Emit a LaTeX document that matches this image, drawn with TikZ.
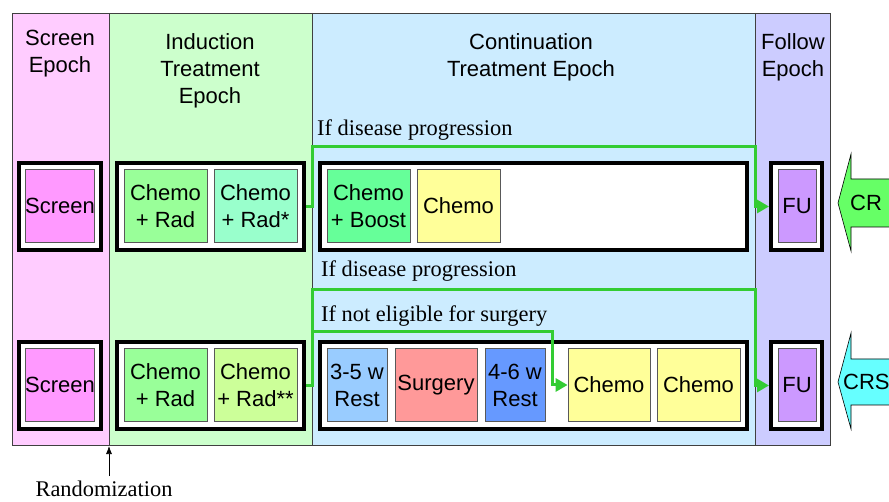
\documentclass[tikz,border=0pt]{standalone}
\usepackage{fontspec}
\setmainfont{Liberation Serif}
\setsansfont{Liberation Sans}
\usetikzlibrary{arrows.meta,calc}
\definecolor{bgscreen}{HTML}{FFCCFF}
\definecolor{bgind}{HTML}{CCFFCC}
\definecolor{bgcont}{HTML}{CCECFF}
\definecolor{bgfu}{HTML}{CCCCFF}
\definecolor{cscreen}{HTML}{FF99FF}
\definecolor{cchemorad}{HTML}{99FF99}
\definecolor{cchemoradstar}{HTML}{99FFCC}
\definecolor{cchemoradtwo}{HTML}{CCFF99}
\definecolor{cboost}{HTML}{66FF99}
\definecolor{cchemo}{HTML}{FFFF99}
\definecolor{crestA}{HTML}{99CCFF}
\definecolor{csurg}{HTML}{FF9999}
\definecolor{crestB}{HTML}{6699FF}
\definecolor{cfu}{HTML}{CC99FF}
\definecolor{flowgreen}{HTML}{33CC33}
\definecolor{crgreen}{HTML}{66FF66}
\definecolor{crscyan}{HTML}{66FFFF}
\tikzset{
  outerbox/.style={draw=black, line width=4pt, fill=white, inner sep=0pt, minimum height=87pt},
  inbox/.style={draw=black!65, line width=0.8pt, inner sep=0pt, align=center,
    font=\sffamily\fontsize{22}{27}\selectfont, minimum height=73pt},
  hdr/.style={font=\sffamily\fontsize{22}{27}\selectfont, align=center, inner sep=0pt},
  lbl/.style={font=\fontsize{22.4}{27}\selectfont, anchor=west, inner sep=0pt},
  flow/.style={draw=flowgreen, line width=3pt, line join=miter,
    -{Triangle[length=12pt,width=13pt]}},
  epochline/.style={draw=black!75, line width=0.8pt},
  bigarrow/.style={draw=black, line width=0.6pt}
}
\begin{document}
\begin{tikzpicture}[x=1pt,y=-1pt]
\useasboundingbox (0,0) rectangle (889,502);
\clip (0,0) rectangle (889,502);
% epoch backgrounds
\fill[bgscreen] (12,13) rectangle (109,445);
\fill[bgind] (109,13) rectangle (312,445);
\fill[bgcont] (312,13) rectangle (755,445);
\fill[bgfu] (755,13) rectangle (830,445);
\draw[epochline] (12,13) rectangle (830,445);
\draw[epochline] (109,13) -- (109,445);
\draw[epochline] (312,13) -- (312,445);
\draw[epochline] (755,13) -- (755,445);
% headers
\node[hdr] (hscr) at (60,54) {Screen\\Epoch};
\node[hdr] (hind) at (210,71) {Induction\\Treatment\\Epoch};
\node[hdr] (hcont) at (531,57) {Continuation\\Treatment Epoch};
\node[hdr] (hfu) at (793,57) {Follow\\Epoch};
% top row
\node[outerbox, minimum width=82pt] (scrT) at (60,206.5) {};
\node[inbox, fill=cscreen, minimum width=67pt] (scrTi) at (60,206) {Screen};
\node[outerbox, minimum width=187pt] (indT) at (210.5,206.5) {};
\node[inbox, fill=cchemorad, minimum width=83pt] (crT) at (165.5,206) {Chemo\\+ Rad};
\node[inbox, fill=cchemoradstar, minimum width=83pt] (crsT) at (255.5,206) {Chemo\\+ Rad*};
\node[outerbox, minimum width=427pt] (contT) at (533.5,206.5) {};
\node[inbox, fill=cboost, minimum width=83pt] (boost) at (368.5,206) {Chemo\\+ Boost};
\node[inbox, fill=cchemo, minimum width=83pt] (chemoT) at (458.5,206) {Chemo};
\node[outerbox, minimum width=51pt] (fuT) at (796.5,206.5) {};
\node[inbox, fill=cfu, minimum width=38pt] (fuTi) at (797,206) {FU};
% bottom row
\node[outerbox, minimum width=82pt] (scrB) at (60,385.5) {};
\node[inbox, fill=cscreen, minimum width=67pt] (scrBi) at (60,385) {Screen};
\node[outerbox, minimum width=187pt] (indB) at (210.5,385.5) {};
\node[inbox, fill=cchemorad, minimum width=83pt] (crB) at (165.5,385) {Chemo\\+ Rad};
\node[inbox, fill=cchemoradtwo, minimum width=83pt] (crsB) at (255.5,385) {Chemo\\+ Rad**};
\node[outerbox, minimum width=427pt] (contB) at (533.5,385.5) {};
\node[inbox, fill=crestA, minimum width=60pt] (restA) at (357,385) {3-5 w\\Rest};
\node[inbox, fill=csurg, minimum width=82pt] (surg) at (436,385) {Surgery};
\node[inbox, fill=crestB, minimum width=60pt] (restB) at (515,385) {4-6 w\\Rest};
\node[inbox, fill=cchemo, minimum width=82pt] (chemoB1) at (609,385) {Chemo};
\node[inbox, fill=cchemo, minimum width=83pt] (chemoB2) at (698.5,385) {Chemo};
\node[outerbox, minimum width=51pt] (fuB) at (796.5,385.5) {};
\node[inbox, fill=cfu, minimum width=38pt] (fuBi) at (797,385) {FU};
% labels
\node[lbl] (l1) at (317,130) {If disease progression};
\node[lbl] (l2) at (321,271) {If disease progression};
\node[lbl] (l3) at (321,316) {If not eligible for surgery};
% flow connectors
\coordinate (t1) at (312,147);
\coordinate (t2) at (755,147);
\draw[flow] (indT.east) -- (indT.east -| t1) -- (t1) -- (t2) -- (t2 |- fuT.west) -- (fuT.west);
\coordinate (b1) at (312,290);
\coordinate (b2) at (755,290);
\draw[flow] (indB.east) -- (indB.east -| b1) -- (b1) -- (b2) -- (b2 |- fuB.west) -- (fuB.west);
\coordinate (n1) at (312,332);
\coordinate (n2) at (552,332);
\draw[flow] (n1) -- (n2) -- (n2 |- chemoB1.west) -- (chemoB1.west);
% response arrows
\draw[bigarrow, fill=crgreen] (838,203) -- (851,154) -- (851,179) -- (895,179) -- (895,227) -- (851,227) -- (851,251) -- cycle;
\node[hdr] (cr) at (866,203) {CR};
\draw[bigarrow, fill=crscyan] (838,382) -- (851,333) -- (851,359) -- (895,359) -- (895,405) -- (851,405) -- (851,429) -- cycle;
\node[hdr, anchor=west] (crs) at (843,382) {CRS};
% randomization
\node[font=\fontsize{22.4}{27}\selectfont, inner sep=0pt] (rand) at (104,489) {Randomization};
\coordinate (rtip) at (109,446);
\draw[-{Latex[length=8pt,width=6pt]}, line width=0.7pt] (109,476) -- (rtip);
\end{tikzpicture}
\end{document}
